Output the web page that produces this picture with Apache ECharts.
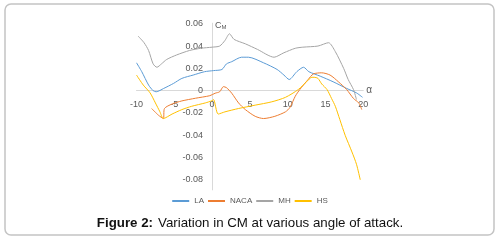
<!DOCTYPE html>
<html>
<head>
<meta charset="utf-8">
<script src="https://cdn.jsdelivr.net/npm/echarts@6/dist/echarts.min.js"></script>
<style>
  html, body { margin: 0; padding: 0; background: #fff; }
  #chart { width: 500px; height: 242px; }
</style>
</head>
<body>
<div id="chart"></div>
<script>
// angle of attack (deg) and CM for each airfoil
const laAlpha = [-10, -9.3, -8.4, -7.8, -7.4, -6.4, -5.1, -4, -2.5, -1, 0.2, 1.3, 1.9, 2.6, 3.9, 4.8, 6.8, 8.6, 9.5, 10.2, 11.2, 12.1, 12.8, 14.3, 16, 17.8, 19.1, 19.9];
const laCm = [0.025, 0.017, 0.005, 0.000, -0.001, 0.002, 0.0065, 0.011, 0.014, 0.017, 0.018, 0.019, 0.024, 0.026, 0.030, 0.030, 0.025, 0.019, 0.014, 0.010, 0.017, 0.021, 0.017, 0.013, 0.008, 0.002, -0.002, -0.006];

const nacaAlpha = [-8, -7.1, -6.45, -6.3, -5.3, -4, -2.2, -0.3, 0.4, 1, 1.5, 1.9, 2.6, 3.5, 4.4, 5.7, 6.8, 8.3, 9.7, 10.3, 11, 11.6, 12.7, 13.4, 14.5, 15.6, 16.7, 17.8, 18.7, 19.4, 19.8];
const nacaCm = [-0.016, -0.022, -0.025, -0.016, -0.012, -0.0092, -0.0068, -0.0045, -0.0023, -0.001, 0.0036, 0.0027, -0.0023, -0.011, -0.017, -0.023, -0.025, -0.023, -0.019, -0.015, -0.005, 0.001, 0.010, 0.015, 0.016, 0.014, 0.008, 0.001, -0.007, -0.011, -0.017];

const mhAlpha = [-9.8, -9, -8.4, -7.8, -7.3, -6.7, -6, -4.7, -3, -1.5, 0, 1, 1.7, 2.3, 2.9, 4.4, 6, 8.2, 9.5, 11, 12, 14, 15.4, 16.3, 17.4, 18, 18.7, 19.1];
const mhCm = [0.049, 0.043, 0.036, 0.024, 0.021, 0.024, 0.028, 0.032, 0.036, 0.038, 0.039, 0.040, 0.045, 0.051, 0.046, 0.042, 0.037, 0.030, 0.034, 0.038, 0.039, 0.040, 0.043, 0.035, 0.020, 0.010, 0.001, -0.008];

const hsAlpha = [-10, -9.1, -8.2, -7.5, -6.9, -6.45, -5.3, -4, -2.7, -0.9, 0, 0.2, 0.8, 1.7, 3.5, 5.7, 7.9, 9.7, 11.4, 12.5, 13.2, 13.5, 14, 14.5, 15.2, 15.8, 16.3, 16.9, 17.6, 18.5, 19.1, 19.6];
const hsCm = [0.014, 0.005, -0.002, -0.011, -0.019, -0.025, -0.021, -0.017, -0.014, -0.011, -0.009, -0.008, -0.021, -0.019, -0.016, -0.013, -0.010, -0.006, 0.001, 0.008, 0.012, 0.012, 0.011, 0.006, 0.001, -0.007, -0.014, -0.026, -0.040, -0.055, -0.066, -0.080];

const yTicks = [-0.08, -0.06, -0.04, -0.02, 0, 0.02, 0.04, 0.06];
const seriesNames = ['LA', 'NACA', 'MH', 'HS'];
const colors = ['#5B9BD5', '#ED7D31', '#A5A5A5', '#FFC000'];

const xMin = -10, xMax = 20, yMin = -0.089, yMax = 0.0605;
const gridLeft = 136.5, gridTop = 23.2, gridW = 226.8, gridH = 166.7;
// axes cross at (0, 0): shift them there with offset
const xAxisOffset = -gridH * (0 - yMin) / (yMax - yMin);
const yAxisOffset = -gridW * (0 - xMin) / (xMax - xMin);

const zip = (xs, ys) => xs.map((x, i) => [x, ys[i]]);
const allData = [zip(laAlpha, laCm), zip(nacaAlpha, nacaCm), zip(mhAlpha, mhCm), zip(hsAlpha, hsCm)];

const chart = echarts.init(document.getElementById('chart'));

const option = {
    animation: false,
    color: colors,
    graphic: [{
        type: 'rect',
        shape: { x: 5, y: 4, width: 489, height: 231, r: 6 },
        style: { fill: 'none', stroke: '#c4c4c4', lineWidth: 1.5 },
        silent: true
    }],
    title: {
        left: 'center',
        top: 209,
        text: '{b|Figure 2:} {n|Variation in CM at various angle of attack.}',
        textStyle: {
            fontWeight: 'normal',
            rich: {
                b: { fontFamily: 'Liberation Sans', fontSize: 13.3, fontWeight: 'bold', color: '#111' },
                n: { fontFamily: 'Liberation Sans', fontSize: 13.3, fontWeight: 'normal', color: '#111' }
            }
        }
    },
    legend: {
        data: seriesNames,
        left: 'center',
        top: 192,
        icon: 'rect',
        itemWidth: 17,
        itemHeight: 2,
        itemGap: 4,
        textStyle: { fontFamily: 'Liberation Sans', fontSize: 8, color: '#595959' }
    },
    grid: { left: gridLeft, top: gridTop, width: gridW, height: gridH },
    xAxis: {
        type: 'value',
        min: xMin,
        max: xMax,
        interval: 5,
        position: 'bottom',
        offset: xAxisOffset,
        name: 'α',
        nameLocation: 'end',
        nameGap: 3,
        nameTextStyle: { fontFamily: 'Liberation Sans', fontSize: 10, color: '#595959' },
        axisLine: { onZero: false, lineStyle: { color: '#D9D9D9', width: 1 } },
        axisTick: { show: false },
        splitLine: { show: false },
        axisLabel: { fontFamily: 'Liberation Sans', fontSize: 9, color: '#595959', margin: 9 }
    },
    yAxis: {
        type: 'value',
        min: yMin,
        max: yMax,
        position: 'left',
        offset: yAxisOffset,
        name: '{c|C}{s|M}',
        nameLocation: 'end',
        nameGap: -2,
        nameTextStyle: {
            align: 'left',
            verticalAlign: 'middle',
            padding: [0, 0, 0, 3],
            rich: {
                c: { fontFamily: 'Liberation Sans', fontSize: 9, color: '#595959' },
                s: { fontFamily: 'Liberation Sans', fontSize: 6, color: '#595959', padding: [5, 0, 0, 0] }
            }
        },
        axisLine: { onZero: false, lineStyle: { color: '#D9D9D9', width: 1 } },
        axisTick: { show: false },
        splitLine: { show: false },
        axisLabel: {
            customValues: yTicks,
            fontFamily: 'Liberation Sans',
            fontSize: 9,
            color: '#595959',
            margin: 9,
            formatter: v => (Math.abs(v) < 1e-9 ? '0' : v.toFixed(2))
        }
    },
    series: seriesNames.map((name, i) => ({
        name,
        type: 'line',
        data: allData[i],
        symbol: 'none',
        smooth: 0.25,
        lineStyle: { width: 1, color: colors[i] }
    }))
};

chart.setOption(option);
</script>
</body>
</html>
